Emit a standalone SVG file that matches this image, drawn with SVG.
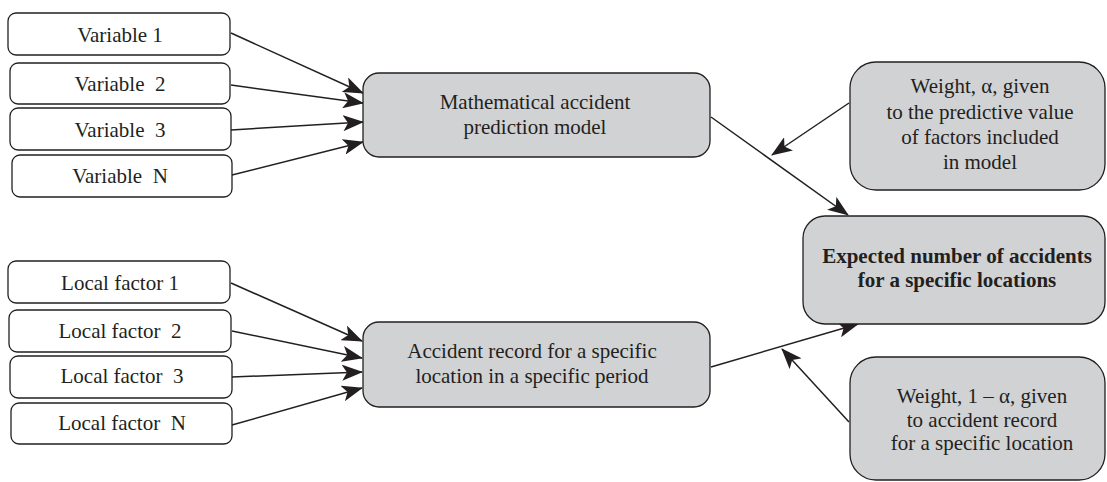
<svg xmlns="http://www.w3.org/2000/svg" width="1107" height="482" viewBox="0 0 1107 482">
<style>
.w{fill:#ffffff;stroke:#231f20;stroke-width:1.3}
.g{fill:#d1d2d4;stroke:#231f20;stroke-width:1.3}
text{font-family:'Liberation Serif',Tinos,'Times New Roman','DejaVu Serif',serif;font-size:21px;fill:#231f20;text-anchor:middle;white-space:pre}
.b{font-weight:bold}
.c{fill:none;stroke:#231f20;stroke-width:1.5;marker-end:url(#ah)}
</style>
<defs>
<marker id="ah" markerUnits="userSpaceOnUse" markerWidth="21" markerHeight="16" refX="20" refY="8" orient="auto">
<path d="M0,0 L21,8 L0,16 L5,8 Z" fill="#231f20"/>
</marker>
</defs>
<rect width="1107" height="482" fill="#ffffff"/>
<g id="connectors">
<line class="c" x1="231" y1="33" x2="363" y2="93"/>
<line class="c" x1="231" y1="85" x2="363" y2="103"/>
<line class="c" x1="231" y1="130" x2="363" y2="122"/>
<line class="c" x1="232" y1="175" x2="363" y2="142"/>
<line class="c" x1="231" y1="283" x2="362" y2="341"/>
<line class="c" x1="232" y1="331" x2="362" y2="358"/>
<line class="c" x1="232" y1="377" x2="362" y2="372"/>
<line class="c" x1="232" y1="425" x2="362" y2="388"/>
<line class="c" x1="711" y1="117" x2="848" y2="215"/>
<line class="c" x1="849" y1="103" x2="772" y2="155"/>
<line class="c" x1="711" y1="367" x2="858" y2="324"/>
<line class="c" x1="849" y1="422" x2="782" y2="349"/>
</g>
<g id="var1"><rect class="w" x="8" y="13" width="222" height="42" rx="8"/><text x="120" y="42">Variable 1</text></g>
<g id="var2"><rect class="w" x="10" y="63" width="220" height="41" rx="8"/><text x="120" y="91">Variable  2</text></g>
<g id="var3"><rect class="w" x="10" y="108" width="221" height="42" rx="8"/><text x="120" y="137">Variable  3</text></g>
<g id="varN"><rect class="w" x="12" y="155" width="220" height="42" rx="8"/><text x="120" y="183">Variable  N</text></g>
<g id="lf1"><rect class="w" x="8" y="261" width="222" height="42" rx="8"/><text x="120" y="290">Local factor 1</text></g>
<g id="lf2"><rect class="w" x="9" y="310" width="222" height="42" rx="8"/><text x="120" y="338">Local factor  2</text></g>
<g id="lf3"><rect class="w" x="10" y="356" width="222" height="42" rx="8"/><text x="122" y="383">Local factor  3</text></g>
<g id="lfN"><rect class="w" x="11" y="403" width="221" height="41" rx="8"/><text x="122" y="430">Local factor  N</text></g>
<g id="model"><rect class="g" x="363" y="73" width="347" height="84" rx="16"/><text x="535" y="109">Mathematical accident</text><text x="535" y="134">prediction model</text></g>
<g id="record"><rect class="g" x="363" y="322" width="347" height="85" rx="16"/><text x="532" y="358">Accident record for a specific</text><text x="532" y="383">location in a specific period</text></g>
<g id="weightA"><rect class="g" x="850" y="62" width="255" height="128" rx="26"/><text x="980" y="93">Weight, α, given</text><text x="980" y="119">to the predictive value</text><text x="980" y="144">of factors included</text><text x="980" y="169">in model</text></g>
<g id="expected"><rect class="g" x="803" y="216" width="302" height="108" rx="22"/><text class="b" x="957" y="263">Expected number of accidents</text><text class="b" x="957" y="287">for a specific locations</text></g>
<g id="weight1A"><rect class="g" x="850" y="357" width="255" height="123" rx="26"/><text x="982" y="403">Weight, 1 – α, given</text><text x="982" y="427">to accident record</text><text x="982" y="450">for a specific location</text></g>
</svg>
